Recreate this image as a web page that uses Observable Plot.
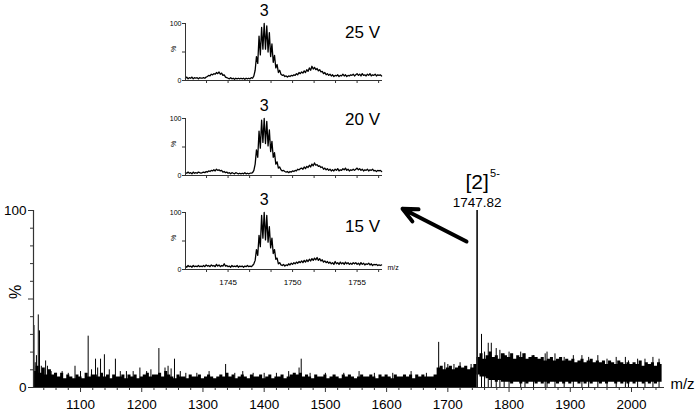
<!DOCTYPE html>
<html><head><meta charset="utf-8">
<script src="https://cdn.jsdelivr.net/npm/d3@7"></script>
<script src="https://cdn.jsdelivr.net/npm/@observablehq/plot@0.6"></script>
<style>
body{margin:0;background:#fff;}
#wrap{position:relative;width:696px;height:412px;font-family:"Liberation Sans",Arial,sans-serif;}
#wrap svg{position:absolute;overflow:visible;}
</style></head><body><div id="wrap"></div>
<script>
// ---------- main spectrum ----------
// noise band, sampled every 5 m/z starting at 1025 (upper edge, %)
const bandHi = [
  9,12,8,11,7,10,7,8,6,8,
  5,7,6,5,7,6,5,8,6,7,
  7,6,8,6,7,5,7,6,6,7,
  5,7,6,7,5,6,7,8,6,7,
  7,8,6,9,7,6,5,7,6,6,
  5,7,6,6,7,5,6,7,6,5,
  6,7,6,8,6,7,5,6,7,6,
  5,7,6,6,7,5,6,7,5,6,
  6,7,5,6,7,8,7,8,6,7,
  6,5,7,6,6,7,5,6,7,6,
  5,7,6,7,6,5,6,7,6,6,
  7,6,5,7,6,7,6,5,7,6,
  6,7,6,7,5,7,6,7,6,6,
  6,7,11,12,10,11,12,10,11,12,
  11,12,10,11,13,
  17,19,16,18,20,17,18,16,19,18,
  17,19,16,18,17,19,16,17,18,17,
  16,17,15,16,17,15,16,17,15,16,
  15,16,14,15,16,14,15,16,14,15,
  14,15,13,15,14,13,15,14,13,14,
  13,14,13,15,12,14,13,14,12,14,
  13
];
// lower edge of the band from 1750 on (%), 0 before
const bandLoFrom1750 = [
  7,6,6,5,4,4,3,4,3,3,
  3,2,3,3,2,3,2,3,3,2,
  3,2,3,2,3,3,2,3,2,3,
  2,3,3,2,3,2,3,2,3,3,
  2,3,2,3,3,2,3,2,3,2,
  3,2,3,3,2,3,2,3,2,3,
  3
];
const spikeMz = [1024,1026,1028,1031,1033,1036,1043,1046,1052,1060,1070,1080,1091,1100,1112.5,1118,1124.5,1128,1132.7,1139,1147,1157,1165,1175,1186,1197,1208,1215,1228,1238,1243,1248,1253.5,1263,1272,1290,1310,1337,1352,1365,1382,1400,1420,1440,1457,1460.5,1475,1500,1530,1555,1580,1610,1640,1665,1685,1695,1700,1710,1720,1738,1755,1760,1766,1771,1779,1785,1792,1800,1819,1826,1840,1859,1862,1875,1890,1905,1919,1930,1945,1960,1975,1990,1995,2010,2022,2035,2045];
const spikeH  = [35,14,18,41,32,12,15,12,9,8,9,8,12,9,29,10,16,11,16,18.5,10,16,9,9,9,11,9,10,22,11,12,10.5,16,9,8,8,9,13,8,9,8,8,8,9,11,16,8,8,8,9,8,8,9,8,25.5,14,13,13,14,13,30,20,25,25,22,21,19,20,20,19,18,19,20,19,17,18,18,17,18,16,17,17,15,16,16,17,16];
const mainPeakMz = [1747.82];
const mainPeakH = [100];
const peakName = ["[2]"];
const peakCharge = ["5-"];
const peakMzText = ["1747.82"];
const mainXTicks = [1100,1200,1300,1400,1500,1600,1700,1800,1900,2000];
const mainYLabels = [0,100];
// arrow annotation (main-plot data coordinates)
const arrowFrom = [1730.5, 82.5];
const arrowTo = [1626, 101];

// ---------- insets (m/z 1741.7 .. 1756.9, step 0.1) ----------
const insetLabels = ["25 V", "20 V", "15 V"];
const insetLabelY = [84, 98, 75];
const insetPeakLabel = "3";
const insetXLabels = [1745, 1750, 1755];
const insetXTicks = [1743.33,1745,1746.67,1748.33,1750,1751.67,1753.33,1755,1756.67];
const trace25 = [
  4,6,3,5,4,6,3,5,4,5,3,5,4,
  4,5,4,6,7,9,8,11,10,12,11,14,12,15,11,13,9,10,6,5,
  4,3,5,3,4,2,4,3,4,3,4,
  3,4,2,4,3,4,3,5,4,8,
  18,42,30,78,45,93,55,100,55,96,50,84,42,64,32,44,22,28,14,18,
  11,9,10,7,8,6,8,7,9,8,10,9,12,10,14,12,
  15,13,17,14,19,16,22,18,25,20,23,19,21,17,19,15,
  16,12,14,10,12,9,11,8,10,7,9,8,10,7,9,8,11,8,10,7,9,8,10,9,11,
  8,10,12,9,11,8,12,9,10,8,11,9,12,8,10,9,11,8,10,9,10,8
];
const trace20 = [
  5,4,6,4,5,3,6,4,5,4,6,5,4,
  5,6,5,7,6,8,7,9,8,10,8,11,9,10,8,9,6,7,5,6,
  4,5,3,5,4,3,5,4,3,4,3,
  4,3,5,3,4,3,4,4,5,9,
  20,45,32,78,48,97,58,100,56,95,52,80,42,60,32,40,20,24,13,15,
  10,8,9,7,6,7,5,7,6,8,7,9,8,11,10,12,
  13,11,15,12,16,14,18,15,20,17,22,18,19,16,17,14,
  15,11,13,10,12,9,11,8,10,8,11,9,12,8,10,9,12,10,13,9,11,8,10,9,11,
  9,11,13,10,12,9,11,8,10,9,11,8,10,9,11,8,9,7,9,8,9,7
];
const trace15 = [
  6,4,7,5,6,4,7,5,6,5,7,5,6,
  5,7,5,8,6,7,5,8,6,7,5,9,6,8,5,7,6,10,6,7,
  5,6,4,7,5,6,5,7,4,6,5,
  6,4,6,5,7,5,6,5,7,10,
  16,35,25,60,40,95,55,100,52,95,48,75,38,55,28,35,18,20,10,12,
  8,7,9,6,8,7,10,8,11,9,12,10,13,11,14,12,
  15,12,16,13,17,14,18,15,19,16,20,17,21,16,19,15,
  17,13,15,12,14,11,13,10,12,9,14,10,12,9,13,10,12,9,13,10,12,9,11,9,12,
  10,12,9,11,8,12,9,11,8,10,9,11,8,10,7,9,8,9,7,8,7,8
];

const FONT = "Liberation Sans, Arial, sans-serif";
const wrap = document.getElementById("wrap");

// ---------- build main plot ----------
const band = bandHi.map((h, i) => ({mz: 1025 + 5 * i, hi: h, lo: i >= 145 ? bandLoFrom1750[i - 145] : 0}));
const spikes = spikeMz.map((m, i) => ({mz: m, h: spikeH[i]}));
const mainPeak = mainPeakMz.map((m, i) => ({mz: m, h: mainPeakH[i]}));
const xMin = 1023.2, xMax = 2053.9;
const minorX = d3.range(1040, 2054, 20).filter(v => v % 100 !== 0);
const minorY = [10,20,30,40,60,70,80,90];

const main = Plot.plot({
  width: 696, height: 412,
  marginLeft: 33, marginRight: 32, marginTop: 210, marginBottom: 25,
  style: {background: "transparent", fontFamily: FONT, overflow: "visible"},
  x: {domain: [xMin, xMax], label: null},
  y: {domain: [0, 100], label: null},
  marks: [
    Plot.areaY(band, {x: "mz", y1: "lo", y2: "hi", fill: "black", curve: "step"}),
    Plot.ruleX(spikes, {x: "mz", y1: 0, y2: "h", stroke: "black", strokeWidth: 1}),
    Plot.ruleX(mainPeak, {x: "mz", y1: 0, y2: "h", stroke: "#222", strokeWidth: 1.8}),
    Plot.ruleY([0], {stroke: "#333", strokeWidth: 1.2}),
    Plot.ruleX([xMin], {stroke: "#333", strokeWidth: 1.2}),
    Plot.axisX({ticks: mainXTicks, tickSize: 5, tickPadding: 7, fontSize: 13.5, tickFormat: d => String(d), label: null, stroke: "#333"}),
    Plot.axisX({ticks: minorX, tickSize: 3, tickFormat: () => "", label: null, stroke: "#333"}),
    Plot.axisY({ticks: mainYLabels, tickSize: 5, tickPadding: 2, fontSize: 13.5, tickFormat: d => String(d), label: null, stroke: "#333"}),
    Plot.axisY({ticks: [50], tickSize: 5, tickFormat: () => "", label: null, stroke: "#333"}),
    Plot.axisY({ticks: minorY, tickSize: 3, tickFormat: () => "", label: null, stroke: "#333"}),
    Plot.text(["%"], {frameAnchor: "left", text: d => d, dx: -18, rotate: -90, fontSize: 16}),
    Plot.text(["m/z"], {frameAnchor: "bottom-right", text: d => d, dx: 18, dy: 1, textAnchor: "middle", fontSize: 15}),
    Plot.text(peakName, {x: () => mainPeakMz[0], y: () => mainPeakH[0], text: d => d, dy: -28, fontSize: 21}),
    Plot.text(peakCharge, {x: () => mainPeakMz[0], y: () => mainPeakH[0], text: d => d, dx: 13, dy: -37, textAnchor: "start", fontSize: 11}),
    Plot.text(peakMzText, {x: () => mainPeakMz[0], y: () => mainPeakH[0], text: d => d, dy: -8, fontSize: 13.5}),
    Plot.arrow([{x1: arrowFrom[0], y1: arrowFrom[1], x2: arrowTo[0], y2: arrowTo[1]}],
      {x1: "x1", y1: "y1", x2: "x2", y2: "y2", stroke: "black", strokeWidth: 4, headAngle: 50, headLength: 6})
  ]
});
main.style.left = "0px"; main.style.top = "0px";
wrap.appendChild(main);

// ---------- insets ----------
const ix0 = 1741.7, ix1 = 1756.97;
function makeInset(trace, idx, showX) {
  const rows = trace.map((v, i) => ({mz: ix0 + 0.1 * i, v}));
  const marks = [
    Plot.lineY(rows, {x: "mz", y: "v", stroke: "black", strokeWidth: 1.3}),
    Plot.ruleY([0], {stroke: "#333"}),
    Plot.ruleX([ix0], {stroke: "#333"}),
    Plot.axisY({ticks: [0, 100], tickSize: 3, tickPadding: 1, fontSize: 7, tickFormat: d => String(d), label: null, stroke: "#333"}),
    Plot.axisY({ticks: [50], tickSize: 3, tickFormat: () => "", label: null, stroke: "#333"}),
    Plot.axisX({ticks: insetXTicks, tickSize: 3, tickPadding: 7, fontSize: 8,
      tickFormat: d => (showX && insetXLabels.includes(d)) ? String(d) : "", label: null, stroke: "#333"}),
    Plot.text(["%"], {frameAnchor: "left", text: d => d, dx: -12, rotate: -90, fontSize: 7}),
    Plot.text([insetPeakLabel], {x: () => 1747.8, y: () => 100, text: d => d, dy: -13, fontSize: 16}),
    Plot.text([insetLabels[idx]], {x: () => 1755.42, y: () => insetLabelY[idx], text: d => d, fontSize: 17})
  ];
  if (showX) marks.push(Plot.text(["m/z"], {frameAnchor: "bottom-right", text: d => d, dx: 5, textAnchor: "start", fontSize: 7}));
  return Plot.plot({
    width: 240, height: 100,
    marginLeft: 25, marginRight: 18, marginTop: 23, marginBottom: 20,
    style: {background: "transparent", fontFamily: FONT, overflow: "visible"},
    x: {domain: [ix0, ix1], label: null},
    y: {domain: [0, 100], label: null},
    marks
  });
}
const insetTops = [0, 95, 189];
[trace25, trace20, trace15].forEach((t, i) => {
  const s = makeInset(t, i, i === 2);
  s.style.left = "160px"; s.style.top = insetTops[i] + "px";
  wrap.appendChild(s);
});
</script>
</body></html>
